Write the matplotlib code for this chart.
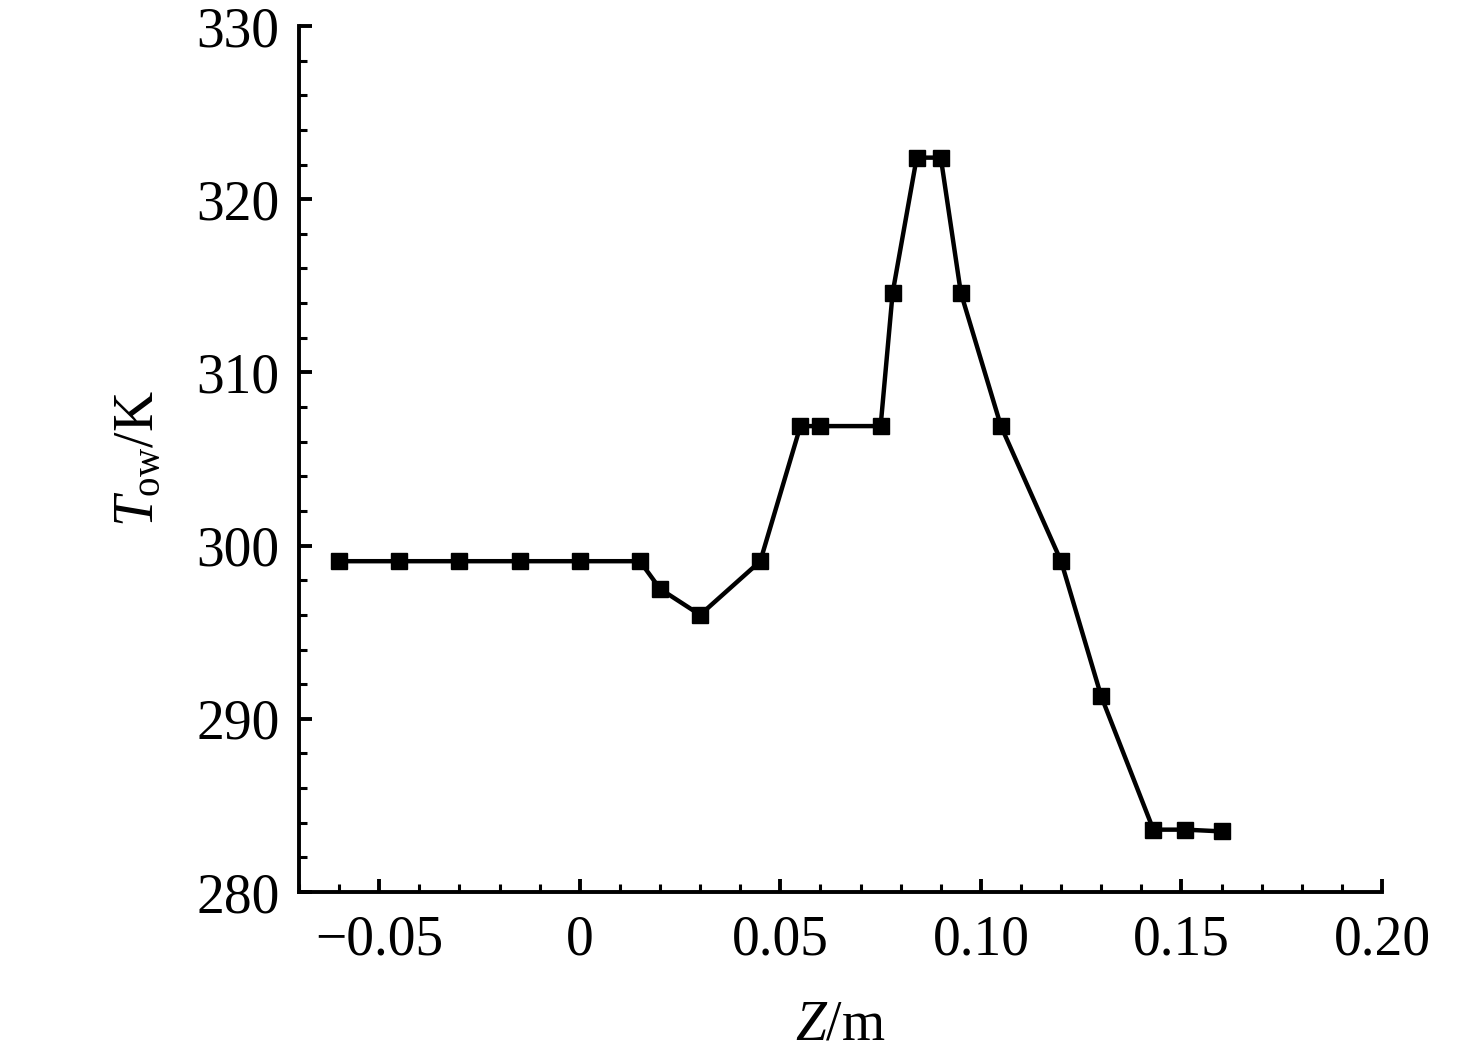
import matplotlib
matplotlib.use("Agg")
import matplotlib.pyplot as plt
from matplotlib.ticker import MultipleLocator, FixedLocator

plt.rcParams['font.family'] = ['Liberation Serif', 'DejaVu Serif']
plt.rcParams['mathtext.fontset'] = 'custom'
plt.rcParams['mathtext.rm'] = 'Liberation Serif'
plt.rcParams['mathtext.it'] = 'Liberation Serif:italic'

z = [-0.06, -0.045, -0.03, -0.015, 0.0, 0.015, 0.02, 0.03, 0.045, 0.055, 0.06,
     0.075, 0.078, 0.084, 0.09, 0.095, 0.105, 0.12, 0.13, 0.143, 0.151, 0.16]
t_ow = [299.1, 299.1, 299.1, 299.1, 299.1, 299.1, 297.5, 296.0, 299.1, 306.9, 306.9,
        306.9, 314.6, 322.4, 322.4, 314.6, 306.9, 299.1, 291.3, 283.6, 283.6, 283.5]
x_ticks = [-0.05, 0.0, 0.05, 0.10, 0.15, 0.20]
x_tick_labels = ['\u22120.05', '0', '0.05', '0.10', '0.15', '0.20']

fig = plt.figure(figsize=(14.76, 10.57), dpi=100)
ax = fig.add_axes([0.2026, 0.1561, 0.9363 - 0.2026, 0.9754 - 0.1561])

ax.plot(z, t_ow, color='black', lw=3.2, marker='s', ms=11.5, mfc='black', mec='black')

ax.set_xlim(-0.07, 0.20)
ax.set_ylim(280, 330)
ax.xaxis.set_major_locator(FixedLocator(x_ticks))
ax.set_xticklabels(x_tick_labels)
ax.xaxis.set_minor_locator(MultipleLocator(0.01))
ax.yaxis.set_major_locator(MultipleLocator(10))
ax.yaxis.set_minor_locator(MultipleLocator(2))

for s in ['top', 'right']:
    ax.spines[s].set_visible(False)
for s in ['left', 'bottom']:
    ax.spines[s].set_linewidth(2.8)

ax.tick_params(which='major', direction='in', length=9.5, width=2.8, labelsize=40, pad=14)
ax.tick_params(which='minor', direction='in', length=5.5, width=2.2)
ax.tick_params(axis='x', which='major', pad=16)

ax.set_xlabel(r'$Z$/m', fontsize=40, labelpad=24)
ax.set_ylabel(r'$T_{\mathrm{ow}}$/K', fontsize=40, labelpad=22)

fig.savefig('out.png', dpi=100)
